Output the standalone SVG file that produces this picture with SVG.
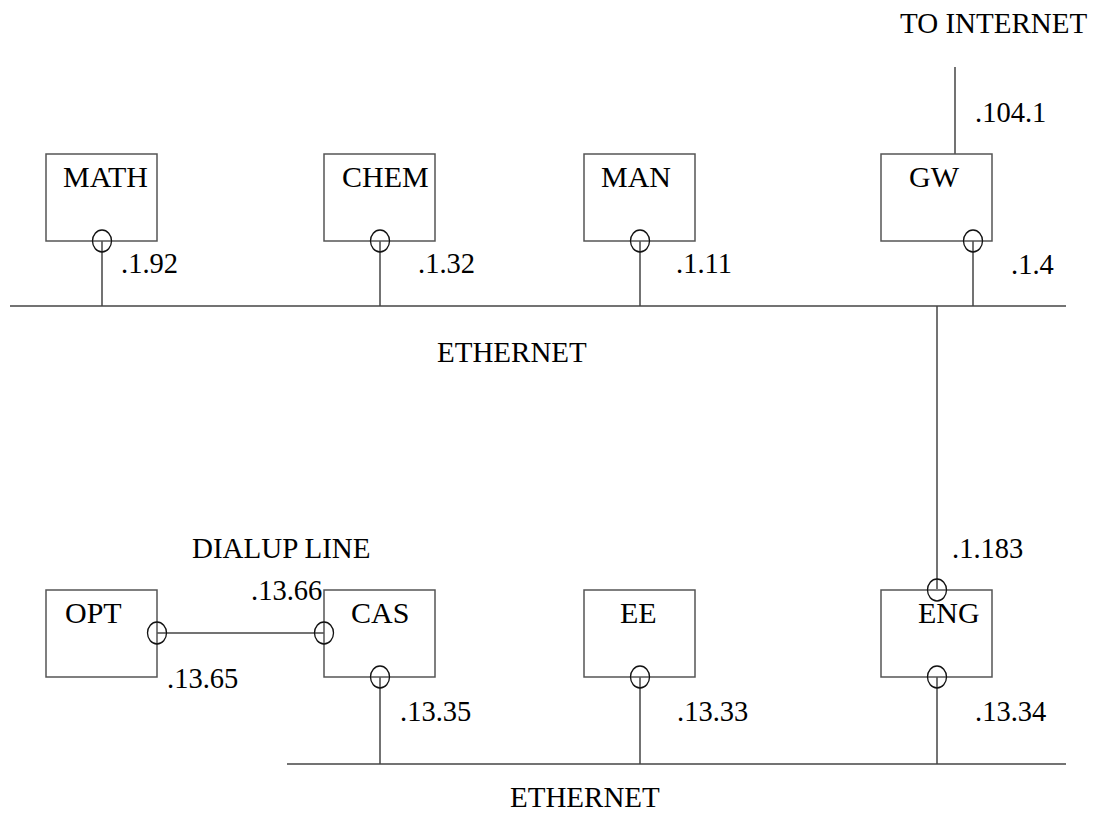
<svg xmlns="http://www.w3.org/2000/svg" width="1105" height="814" viewBox="0 0 1105 814">
<style>
text { font-family: "Liberation Serif", "DejaVu Serif", serif; font-size: 29px; fill: #000; }
.name { font-size: 30px; }
.num { font-size: 28.5px; }
.box { fill: #fff; stroke: #555; stroke-width: 1.5; }
.ln { stroke: #444; stroke-width: 1.5; fill: none; }
.port { fill: none; stroke: #111; stroke-width: 1.3; }
</style>
<rect width="1105" height="814" fill="#fff"/>
<g id="connectors">
  <line class="ln" x1="10" y1="306" x2="1066" y2="306"/>
  <line class="ln" x1="287" y1="764" x2="1066" y2="764"/>
  <line class="ln" x1="102" y1="241" x2="102" y2="306"/>
  <line class="ln" x1="380" y1="241" x2="380" y2="306"/>
  <line class="ln" x1="640" y1="241" x2="640" y2="306"/>
  <line class="ln" x1="973" y1="241" x2="973" y2="306"/>
  <line class="ln" x1="955" y1="67" x2="955" y2="154"/>
  <line class="ln" x1="937" y1="306" x2="937" y2="589"/>
  <line class="ln" x1="380" y1="677" x2="380" y2="764"/>
  <line class="ln" x1="640" y1="677" x2="640" y2="764"/>
  <line class="ln" x1="937" y1="677" x2="937" y2="764"/>
  <line class="ln" x1="157" y1="633" x2="324" y2="633"/>
</g>
<g id="labels">
  <text x="900" y="33">TO INTERNET</text>
  <text x="437" y="362">ETHERNET</text>
  <text x="510" y="807">ETHERNET</text>
  <text x="192" y="558">DIALUP LINE</text>
  <text class="num" x="975" y="122">.104.1</text>
  <text class="num" x="121" y="273">.1.92</text>
  <text class="num" x="418" y="273">.1.32</text>
  <text class="num" x="676" y="273">.1.11</text>
  <text class="num" x="1011" y="274">.1.4</text>
  <text class="num" x="952" y="558">.1.183</text>
  <text class="num" x="251" y="600">.13.66</text>
  <text class="num" x="167" y="688">.13.65</text>
  <text class="num" x="400" y="721">.13.35</text>
  <text class="num" x="677" y="721">.13.33</text>
  <text class="num" x="975" y="721">.13.34</text>
</g>
<g id="MATH">
  <rect class="box" x="46" y="154" width="111" height="87"/>
  <text class="name" x="63" y="187">MATH</text>
  <ellipse class="port" cx="102" cy="241" rx="9.5" ry="11"/>
</g>
<g id="CHEM">
  <rect class="box" x="324" y="154" width="111" height="87"/>
  <text class="name" x="342" y="187">CHEM</text>
  <ellipse class="port" cx="380" cy="241" rx="9.5" ry="11"/>
</g>
<g id="MAN">
  <rect class="box" x="584" y="154" width="111" height="87"/>
  <text class="name" x="601" y="187">MAN</text>
  <ellipse class="port" cx="640" cy="241" rx="9.5" ry="11"/>
</g>
<g id="GW">
  <rect class="box" x="881" y="154" width="111" height="87"/>
  <text class="name" x="909" y="187">GW</text>
  <ellipse class="port" cx="973" cy="241" rx="9.5" ry="11"/>
</g>
<g id="OPT">
  <rect class="box" x="46" y="590" width="111" height="87"/>
  <text class="name" x="65" y="623">OPT</text>
  <ellipse class="port" cx="157" cy="633" rx="9.5" ry="11"/>
</g>
<g id="CAS">
  <rect class="box" x="324" y="590" width="111" height="87"/>
  <text class="name" x="351" y="623">CAS</text>
  <ellipse class="port" cx="324" cy="633" rx="9.5" ry="11"/>
  <ellipse class="port" cx="380" cy="677" rx="9.5" ry="11"/>
</g>
<g id="EE">
  <rect class="box" x="584" y="590" width="111" height="87"/>
  <text class="name" x="620" y="623">EE</text>
  <ellipse class="port" cx="640" cy="677" rx="9.5" ry="11"/>
</g>
<g id="ENG">
  <rect class="box" x="881" y="590" width="111" height="87"/>
  <text class="name" x="918" y="623">ENG</text>
  <ellipse class="port" cx="937" cy="590" rx="9.5" ry="11"/>
  <ellipse class="port" cx="937" cy="677" rx="9.5" ry="11"/>
</g>
</svg>
